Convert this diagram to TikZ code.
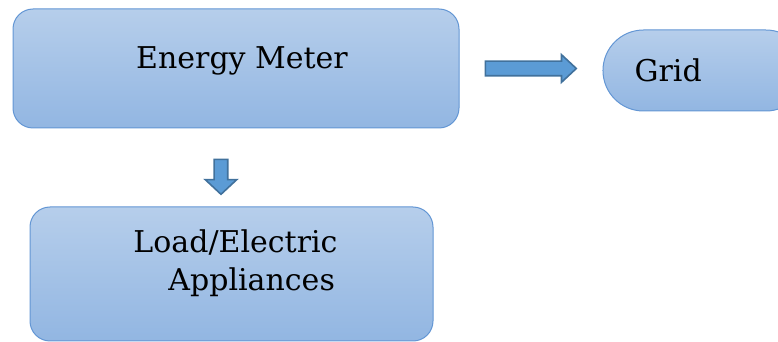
\documentclass[tikz,border=0pt]{standalone}
\usepackage{xcolor}
\usepackage{fontspec}
\setmainfont{DejaVu Serif}
\usepackage{tikz}
\usetikzlibrary{shapes,arrows,positioning}
\definecolor{boxtop}{RGB}{182,206,235}
\definecolor{boxbot}{RGB}{146,182,226}
\definecolor{boxline}{RGB}{99,150,212}
\definecolor{arrfill}{RGB}{91,155,213}
\definecolor{arrline}{RGB}{65,113,156}

\begin{document}
\begin{tikzpicture}[x=1pt,y=1pt,font=\fontsize{15}{18}\selectfont,
    block/.style={rectangle,draw=boxline,top color=boxtop,bottom color=boxbot,
                  rounded corners=10pt,line width=0.5pt},
    pill/.style={rounded rectangle,draw=boxline,top color=boxtop,bottom color=boxbot,
                 line width=0.5pt},
    fatarrow/.style={single arrow,draw=arrline,fill=arrfill,line width=0.8pt,
                     inner sep=0pt,text depth=0pt}]
\clip (0,0) rectangle (389,-171);
\node[block,minimum width=223pt,minimum height=59.5pt,text depth=11pt] (meter) at (118,-34.25)
    {\hspace*{6pt}Energy Meter};
\node[fatarrow,minimum height=45.5pt,text height=6.5pt,text width=0pt,
      single arrow head extend=3.25pt,single arrow tip angle=86,
      right=12.5pt of meter] (toGrid) {};
\node[pill,minimum height=40.5pt,inner xsep=15pt,text width=70pt,align=left,
      right=12.5pt of toGrid,yshift=-1pt] (grid) {Grid};
\node[fatarrow,minimum height=17.5pt,text height=6pt,text width=6pt,
      single arrow head extend=4.5pt,single arrow tip angle=94,shape border rotate=270,
      below=15pt of meter,xshift=-7.5pt] (toLoad) {};
\node[block,minimum width=201.5pt,minimum height=67pt,align=left,text depth=14pt,
      below=39pt of meter,xshift=-2.25pt] (load)
    {\hspace*{4pt}Load/Electric\\[1pt]\hspace*{21.5pt}Appliances};
\end{tikzpicture}
\end{document}
